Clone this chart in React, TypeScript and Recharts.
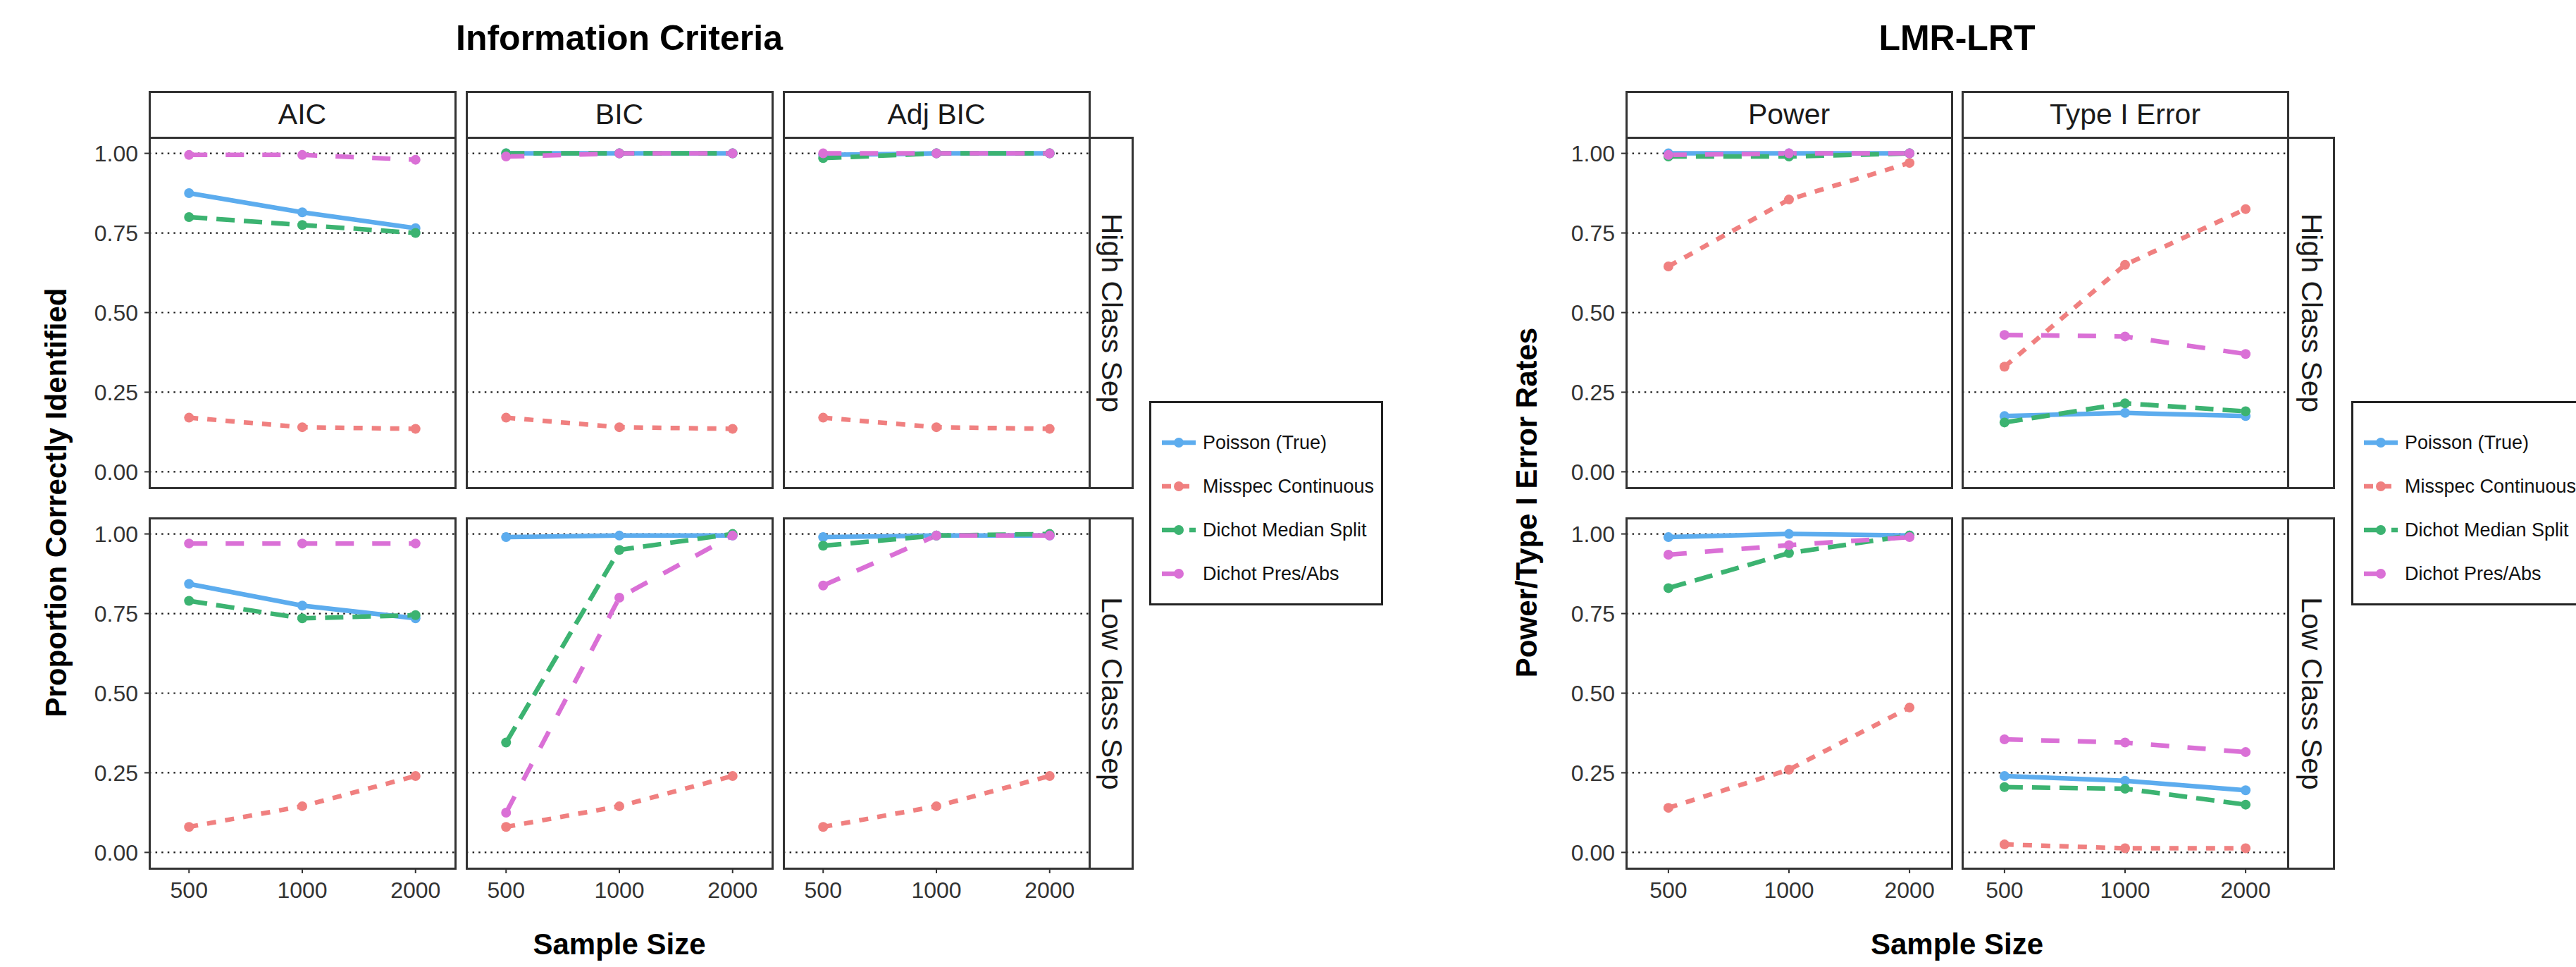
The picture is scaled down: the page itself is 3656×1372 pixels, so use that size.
import React from 'react';
import { LineChart, Line, XAxis, YAxis, CartesianGrid } from 'recharts';

const sampleSizes = ['500', '1000', '2000'];
const seriesNames = ['Poisson (True)', 'Misspec Continuous', 'Dichot Median Split', 'Dichot Pres/Abs'];
const seriesColors = ['#5CACEE', '#F08080', '#3CB371', '#DA70D6'];
const seriesDashes = ['', '13 13', '26 13', '26 26'];
const yTicks = [0, 0.25, 0.5, 0.75, 1];
const rowLabels = ['High Class Sep', 'Low Class Sep'];

// each panel: one row per series (Poisson, Misspec, Median Split, Pres/Abs), columns = 500 / 1000 / 2000
const aicHigh = [[0.875, 0.815, 0.765], [0.17, 0.14, 0.135], [0.8, 0.775, 0.75], [0.995, 0.995, 0.98]];
const bicHigh = [[1, 1, 1], [0.17, 0.14, 0.135], [1, 1, 1], [0.99, 1, 1]];
const adjBicHigh = [[0.995, 1, 1], [0.17, 0.14, 0.135], [0.985, 1, 1], [1, 1, 1]];
const aicLow = [[0.843, 0.775, 0.735], [0.08, 0.145, 0.24], [0.79, 0.735, 0.745], [0.97, 0.97, 0.97]];
const bicLow = [[0.99, 0.995, 0.995], [0.08, 0.145, 0.24], [0.345, 0.95, 1], [0.125, 0.8, 0.995]];
const adjBicLow = [[0.99, 0.995, 0.995], [0.08, 0.145, 0.24], [0.963, 0.995, 1], [0.838, 0.995, 0.995]];

const powerHigh = [[1, 1, 1], [0.645, 0.855, 0.97], [0.99, 0.99, 1], [0.995, 1, 1]];
const typeIHigh = [[0.175, 0.185, 0.175], [0.33, 0.65, 0.825], [0.155, 0.215, 0.19], [0.43, 0.425, 0.37]];
const powerLow = [[0.99, 1, 0.995], [0.14, 0.26, 0.455], [0.83, 0.94, 0.995], [0.935, 0.965, 0.99]];
const typeILow = [[0.24, 0.225, 0.195], [0.025, 0.013, 0.013], [0.205, 0.2, 0.15], [0.355, 0.345, 0.315]];

const FONT = '"Liberation Sans", Arial, sans-serif';
const ROW_Y = [195, 735];
const PANEL_H = 497;
const STRIP_TOP = 130;
const STRIP_H = 65;
const BORDER = '3px solid #333';

const figures = [
  {
    title: 'Information Criteria',
    yTitle: 'Proportion Correctly Identified',
    yTitleX: 80,
    colX: [212, 662, 1112],
    panelW: 434,
    stripW: 61,
    colNames: ['AIC', 'BIC', 'Adj BIC'],
    values: [[aicHigh, bicHigh, adjBicHigh], [aicLow, bicLow, adjBicLow]],
    legendX: 1631,
  },
  {
    title: 'LMR-LRT',
    yTitle: 'Power/Type I Error Rates',
    yTitleX: 2167,
    colX: [2308, 2785],
    panelW: 462,
    stripW: 65,
    colNames: ['Power', 'Type I Error'],
    values: [[powerHigh, typeIHigh], [powerLow, typeILow]],
    legendX: 3337,
  },
];

const Panel = ({ x, y, w, h, values, showY, showX }: any) => {
  const yw = showY ? 110 : 0;
  const xh = showX ? 70 : 0;
  const pad = (w * 0.35) / 2.7;
  const data = sampleSizes.map((n, i) => {
    const row: any = { n };
    values.forEach((s: number[], k: number) => (row['s' + k] = s[i]));
    return row;
  });
  const tickStyle = { fill: '#333', fontSize: 32, fontFamily: FONT };
  return (
    <div style={{ position: 'absolute', left: x - yw, top: y }}>
      <LineChart width={w + yw} height={h + xh} data={data} margin={{ top: 0, right: 0, bottom: 0, left: 0 }}>
        <CartesianGrid vertical={false} stroke="#1a1a1a" strokeWidth={2.2} strokeDasharray="2.5 6.1" />
        <XAxis
          dataKey="n"
          type="category"
          scale="point"
          padding={{ left: pad, right: pad }}
          hide={!showX}
          height={xh}
          axisLine={false}
          tickSize={7}
          tickMargin={12}
          tickLine={{ stroke: '#333', strokeWidth: 2 }}
          tick={tickStyle}
          interval={0}
        />
        <YAxis
          type="number"
          domain={[-0.05, 1.05]}
          ticks={yTicks}
          hide={!showY}
          width={yw}
          axisLine={false}
          tickSize={7}
          tickMargin={9}
          tickLine={{ stroke: '#333', strokeWidth: 2 }}
          tick={tickStyle}
          tickFormatter={(v: number) => v.toFixed(2)}
        />
        {seriesNames.map((name, k) => (
          <Line
            key={name}
            name={name}
            type="linear"
            dataKey={'s' + k}
            stroke={seriesColors[k]}
            strokeWidth={6.5}
            strokeDasharray={seriesDashes[k] || undefined}
            dot={(p: any) => <circle key={p.index} cx={p.cx} cy={p.cy} r={7} fill={seriesColors[k]} />}
            activeDot={false}
            isAnimationActive={false}
          />
        ))}
      </LineChart>
      <div
        style={{
          position: 'absolute',
          left: yw - 1.5,
          top: -1.5,
          width: w + 3,
          height: h + 3,
          border: BORDER,
          boxSizing: 'border-box',
          pointerEvents: 'none',
        }}
      />
    </div>
  );
};

const LegendBox = ({ x }: { x: number }) => (
  <div
    style={{
      position: 'absolute',
      left: x,
      top: 569,
      width: 332,
      height: 290,
      border: '3px solid #222',
      boxSizing: 'border-box',
      background: '#fff',
    }}
  >
    {seriesNames.map((name, k) => (
      <React.Fragment key={name}>
        <svg style={{ position: 'absolute', left: 15, top: 56 + 62 * k - 15 }} width={48} height={30}>
          <line
            x1={0}
            y1={15}
            x2={48}
            y2={15}
            stroke={seriesColors[k]}
            strokeWidth={6.5}
            strokeDasharray={seriesDashes[k] || undefined}
          />
          <circle cx={24} cy={15} r={7} fill={seriesColors[k]} />
        </svg>
        <div
          style={{
            position: 'absolute',
            left: 73,
            top: 56 + 62 * k - 20,
            height: 40,
            lineHeight: '40px',
            fontSize: 27,
            fontFamily: FONT,
            color: '#111',
            whiteSpace: 'nowrap',
          }}
        >
          {name}
        </div>
      </React.Fragment>
    ))}
  </div>
);

const App = () => {
  return (
    <div
      style={{
        position: 'absolute',
        left: 0,
        top: 0,
        width: 3656,
        height: 1372,
        overflow: 'hidden',
        background: '#fff',
        fontFamily: FONT,
      }}
    >
      {figures.map((fig) => {
        const ncol = fig.colX.length;
        const left = fig.colX[0];
        const right = fig.colX[ncol - 1] + fig.panelW;
        const centerX = (left + right) / 2;
        return (
          <React.Fragment key={fig.title}>
            <div
              style={{
                position: 'absolute',
                left: centerX - 600,
                width: 1200,
                top: 24,
                height: 60,
                lineHeight: '60px',
                textAlign: 'center',
                fontSize: 50,
                fontWeight: 'bold',
                color: '#000',
              }}
            >
              {fig.title}
            </div>
            <div
              style={{
                position: 'absolute',
                left: centerX - 300,
                width: 600,
                top: 1315,
                height: 50,
                lineHeight: '50px',
                textAlign: 'center',
                fontSize: 42,
                fontWeight: 'bold',
                color: '#000',
              }}
            >
              Sample Size
            </div>
            <div
              style={{
                position: 'absolute',
                left: fig.yTitleX,
                top: 713,
                transform: 'translate(-50%, -50%) rotate(-90deg)',
                fontSize: 42,
                fontWeight: 'bold',
                whiteSpace: 'nowrap',
                color: '#000',
              }}
            >
              {fig.yTitle}
            </div>
            {fig.colNames.map((cn, c) => (
              <div
                key={cn}
                style={{
                  position: 'absolute',
                  left: fig.colX[c] - 1.5,
                  top: STRIP_TOP - 1.5,
                  width: fig.panelW + 3,
                  height: STRIP_H + 3,
                  border: BORDER,
                  boxSizing: 'border-box',
                  display: 'flex',
                  alignItems: 'center',
                  justifyContent: 'center',
                  fontSize: 41,
                  color: '#1a1a1a',
                }}
              >
                {cn}
              </div>
            ))}
            {ROW_Y.map((ry, r) => (
              <React.Fragment key={r}>
                {fig.colX.map((cx, c) => (
                  <Panel
                    key={c}
                    x={cx}
                    y={ry}
                    w={fig.panelW}
                    h={PANEL_H}
                    values={fig.values[r][c]}
                    showY={c === 0}
                    showX={r === ROW_Y.length - 1}
                  />
                ))}
                <div
                  style={{
                    position: 'absolute',
                    left: right - 1.5,
                    top: ry - 1.5,
                    width: fig.stripW + 3,
                    height: PANEL_H + 3,
                    border: BORDER,
                    boxSizing: 'border-box',
                  }}
                >
                  <div
                    style={{
                      position: 'absolute',
                      left: '50%',
                      top: '50%',
                      transform: 'translate(-50%, -50%) rotate(90deg)',
                      whiteSpace: 'nowrap',
                      fontSize: 41,
                      color: '#1a1a1a',
                    }}
                  >
                    {rowLabels[r]}
                  </div>
                </div>
              </React.Fragment>
            ))}
            <LegendBox x={fig.legendX} />
          </React.Fragment>
        );
      })}
    </div>
  );
};

export default App;
